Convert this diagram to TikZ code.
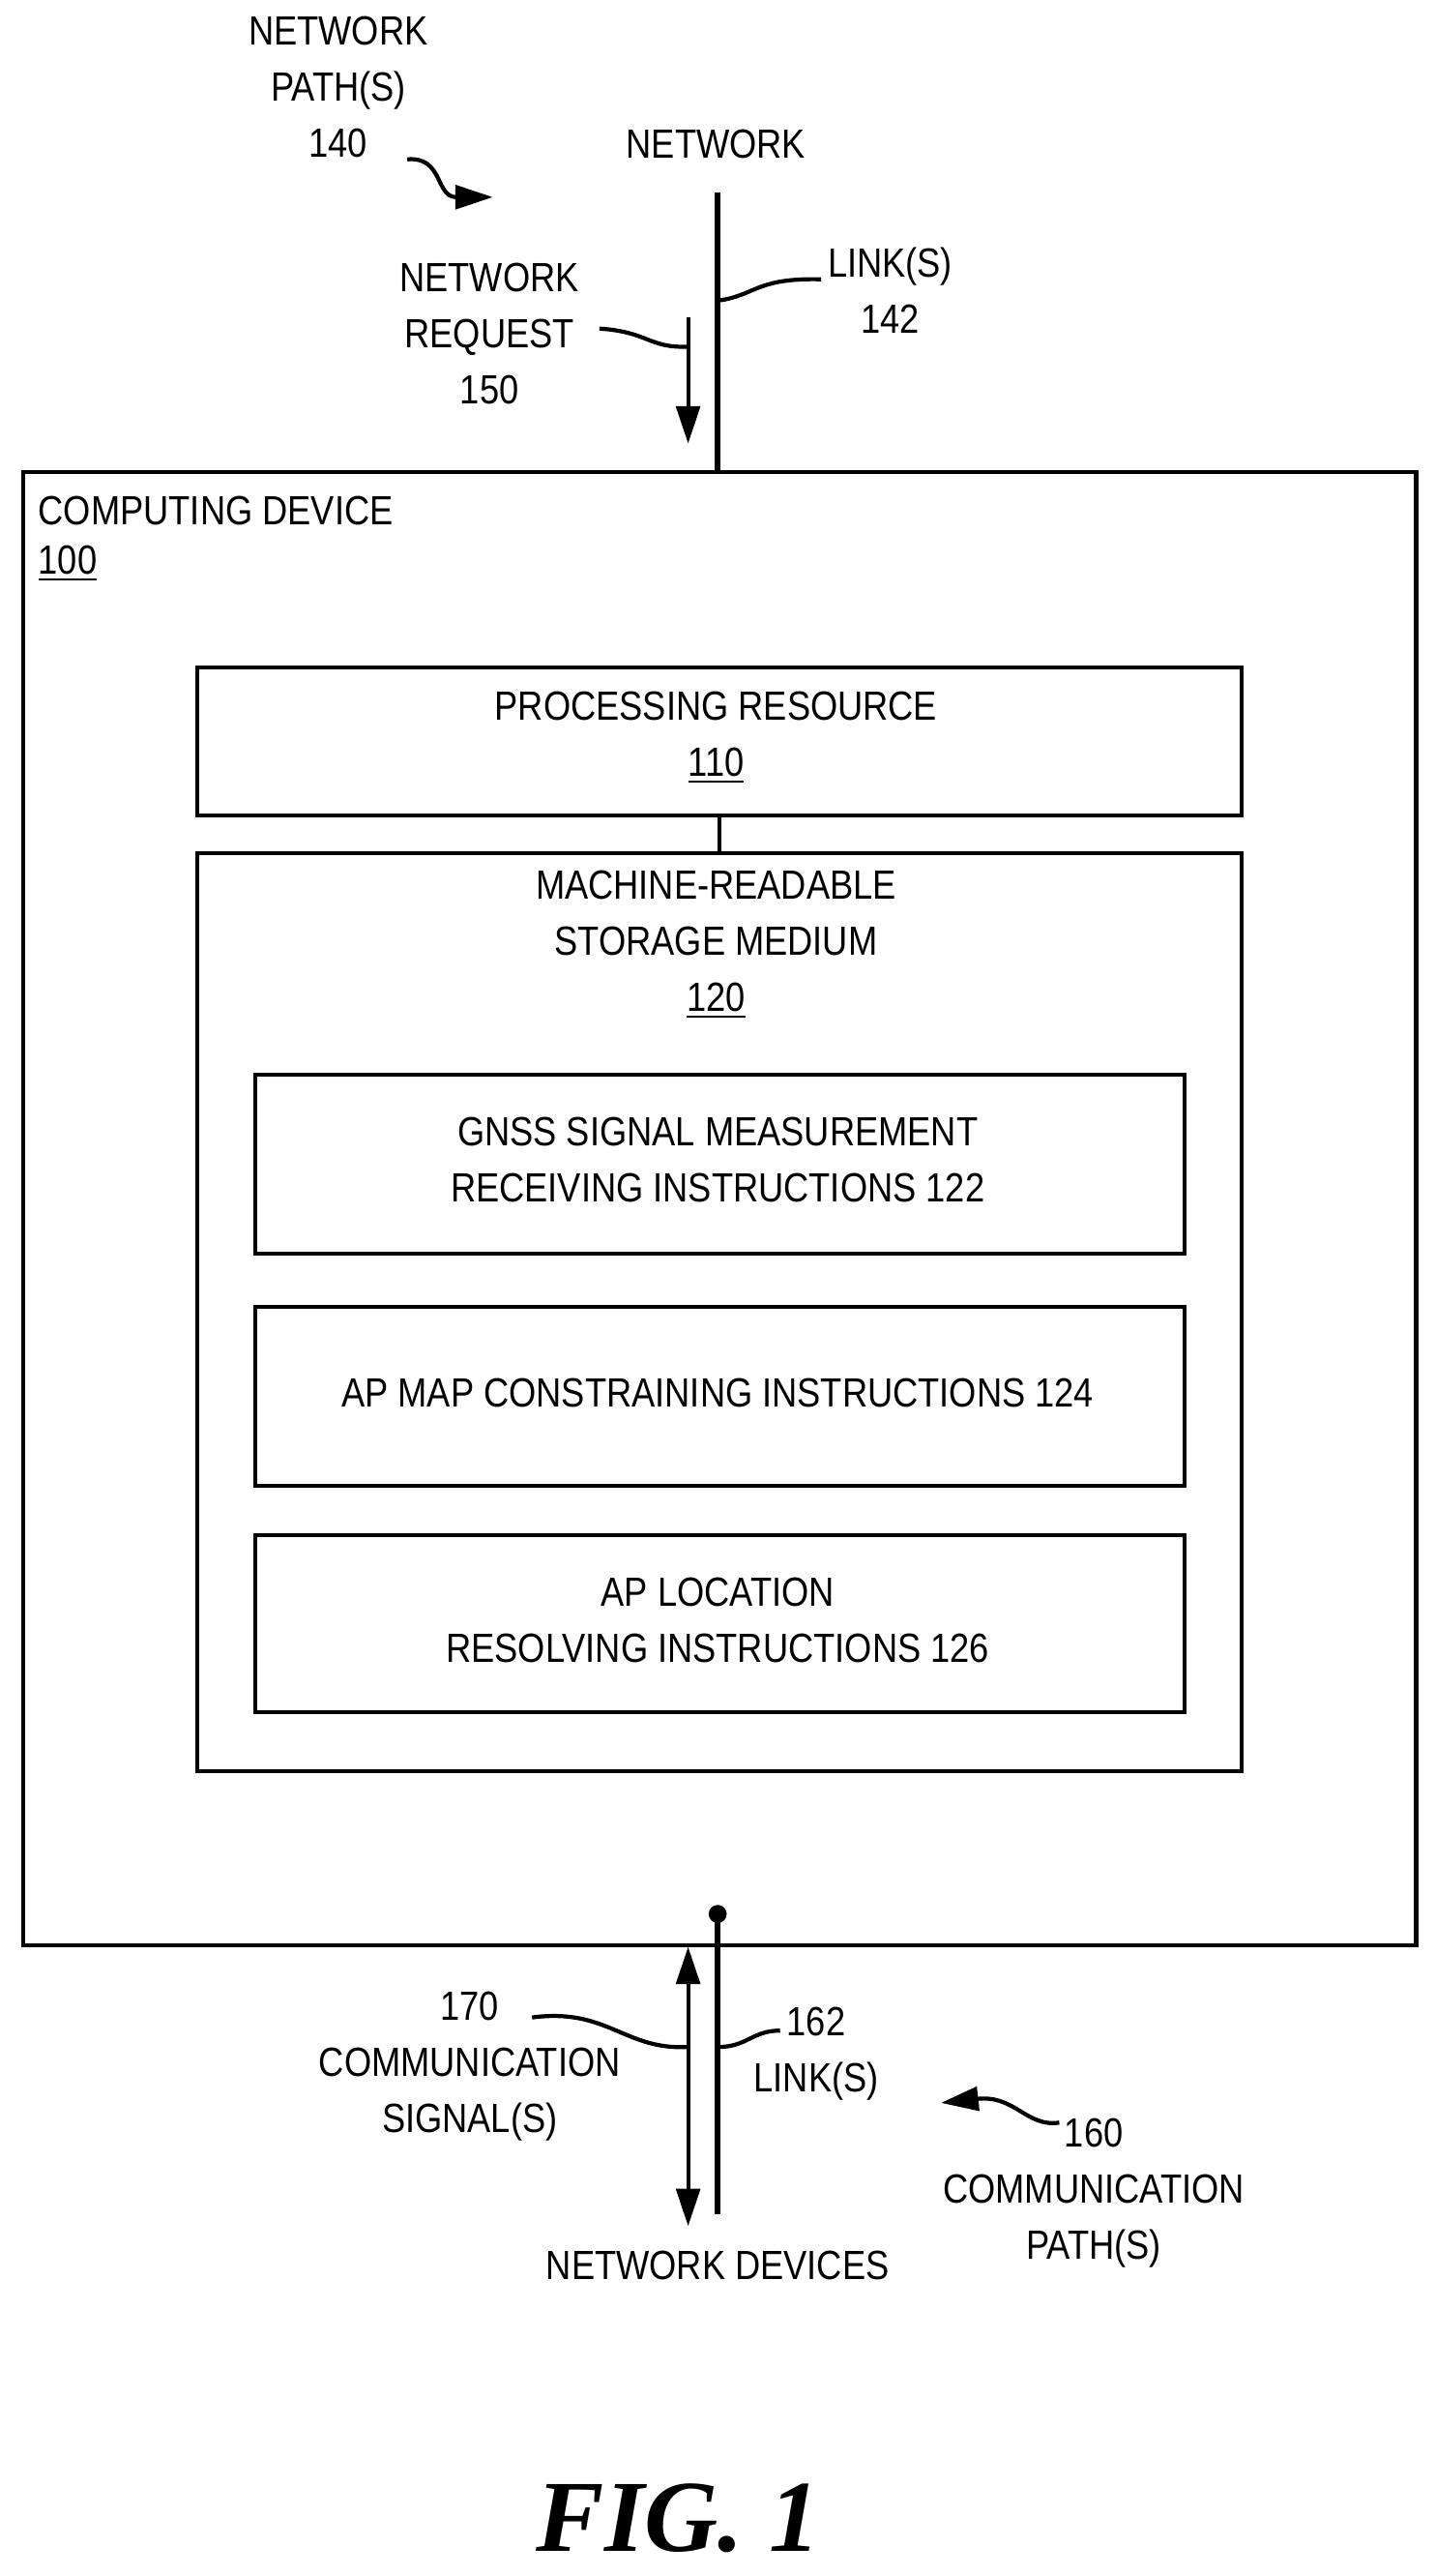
\documentclass[tikz,border=0pt]{standalone}
\usepackage{fontspec}
\setmainfont[FakeStretch=0.86]{Liberation Sans}
\newfontfamily\figfont{Liberation Serif}
\usetikzlibrary{arrows.meta}
\tikzset{
  box/.style={draw, line width=1.2pt},
  lbl/.style={align=center, font=\fontsize{12}{16.5}\selectfont, inner sep=0pt},
  lead/.style={line width=1.2pt},
  tip/.style={-{Triangle[length=11pt,width=7pt]}, line width=1.2pt}
}
\begin{document}
\begin{tikzpicture}[x=0.01698cm, y=-0.01698cm]
		\useasboundingbox (0,0) rectangle (874,1568);
		% boxes
		\node[box, minimum width=848*0.01698cm, minimum height=897*0.01698cm, anchor=north west] (dev) at (13,286) {};
		\node[box, minimum width=636*0.01698cm, minimum height=90*0.01698cm, anchor=north west] (proc) at (119,405) {};
		\node[box, minimum width=636*0.01698cm, minimum height=559*0.01698cm, anchor=north west] (mrsm) at (119,518) {};
		\node[box, minimum width=566*0.01698cm, minimum height=109*0.01698cm, anchor=north west] (gnss) at (154,653) {};
		\node[box, minimum width=566*0.01698cm, minimum height=109*0.01698cm, anchor=north west] (apmap) at (154,794) {};
		\node[box, minimum width=566*0.01698cm, minimum height=108*0.01698cm, anchor=north west] (aploc) at (154,933) {};
		\draw[lead] (proc.south) -- (mrsm.north);
		% texts in boxes
		\node[lbl, anchor=west] (devt) at (23,311) {COMPUTING DEVICE};
		\node[lbl, anchor=west] (devn) at (23,343) {\underline{100}};
		\node[lbl] (proct) at (436,449) {PROCESSING RESOURCE\\\underline{110}};
		\node[lbl] (mrsmt) at (436,575) {MACHINE-READABLE\\STORAGE MEDIUM\\\underline{120}};
		\node[lbl] (gnsst) at (437,706) {GNSS SIGNAL MEASUREMENT\\RECEIVING INSTRUCTIONS 122};
		\node[lbl] (apmapt) at (437,848) {AP MAP CONSTRAINING INSTRUCTIONS 124};
		\node[lbl] (aploct) at (437,986) {AP LOCATION\\RESOLVING INSTRUCTIONS 126};
		% network side
		\node[lbl] (net) at (436,88) {NETWORK};
		\coordinate (ntop) at (437,117);
		\draw[line width=1.7pt] (ntop) -- (437,286);
		\coordinate (rqa) at (419,193);
		\coordinate (rqb) at (419,270);
		\draw[tip] (rqa) -- (rqb);
		\node[lbl] (rq) at (298,203) {NETWORK\\REQUEST\\150};
		\draw[lead] (365,200) .. controls (395,202) and (395,212) .. (419,211);
		\node[lbl] (lk1) at (542,177) {LINK(S)\\142};
		\draw[lead] (437,183) .. controls (460,180) and (460,169) .. (500,170);
		\node[lbl] (np) at (206,53) {NETWORK\\PATH(S)\\140};
		\draw[tip] (248,97) .. controls (270,95) and (265,120) .. (300,120);
		% device side
		\coordinate (dot) at (437,1165);
		\fill (dot) circle (5.5);
		\draw[line width=1.7pt] (dot) -- (437,1348);
		\draw[tip, {Triangle[length=11pt,width=7pt]}-{Triangle[length=11pt,width=7pt]}] (419,1185) -- (419,1355);
		\node[lbl] (cs) at (286,1258) {170\\COMMUNICATION\\SIGNAL(S)};
		\draw[lead] (324,1228) .. controls (370,1222) and (380,1248) .. (419,1246);
		\node[lbl] (lk2) at (497,1250) {162\\LINK(S)};
		\draw[lead] (437,1246) .. controls (455,1246) and (458,1236) .. (475,1236);
		\node[lbl] (cp) at (666,1335) {160\\COMMUNICATION\\PATH(S)};
		\draw[tip] (645,1292) .. controls (625,1295) and (618,1275) .. (573,1280);
		\node[lbl] (nd) at (437,1379) {NETWORK DEVICES};
		\node[font=\figfont\bfseries\itshape\fontsize{30}{36}\selectfont] (fig) at (413,1533) {FIG. 1};
	\end{tikzpicture}
\end{document}
